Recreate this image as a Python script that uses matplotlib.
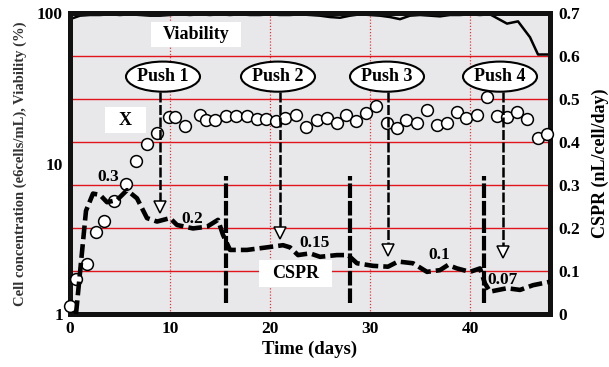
import matplotlib
matplotlib.use("Agg")
import numpy as np
import matplotlib.pyplot as plt
from matplotlib.patches import Ellipse, Rectangle

plt.rcParams['font.family'] = ['Liberation Serif', 'DejaVu Serif']
plt.rcParams['font.weight'] = 'bold'
plt.rcParams['axes.labelweight'] = 'bold'

# cell concentration X (e6 cells/mL), open circles
x_days = [0.0, 0.6, 1.7, 2.6, 3.4, 4.4, 5.6, 6.6, 7.7, 8.7,
          9.9, 10.5, 11.5, 13.0, 13.6, 14.5, 15.6, 16.6, 17.7, 18.7,
          19.6, 20.6, 21.5, 22.6, 23.6, 24.7, 25.7, 26.7, 27.6, 28.6,
          29.6, 30.6, 31.7, 32.7, 33.6, 34.7, 35.7, 36.7, 37.7, 38.7,
          39.6, 40.7, 41.7, 42.7, 43.7, 44.7, 45.7, 46.8, 47.7]
x_vals = [1.13, 1.71, 2.15, 3.5, 4.15, 5.6, 7.3, 10.4, 13.4, 15.9,
          20.4, 20.4, 17.7, 21, 19.4, 19.4, 20.7, 20.7, 20.7, 19.8,
          19.7, 19.2, 20, 21, 17.5, 19.4, 20.2, 18.7, 21, 19.2,
          21.6, 24.1, 18.7, 17.1, 19.4, 18.7, 22.7, 18.1, 18.7, 22.1,
          20, 21, 27.5, 20.7, 20.4, 22.1, 19.7, 14.7, 15.7]

# viability (%)
via_days = list(range(0, 43)) + [43.7, 44.8, 46.0, 46.8, 48.0]
via_vals = [91, 96, 97, 97, 98, 97, 98, 97, 96, 96,
            97, 98, 97, 98, 97, 98, 97, 98, 97, 97,
            98, 97, 97, 98, 97, 96, 94, 93, 96, 98,
            97, 96, 94, 91, 96, 97, 96, 95, 97, 97,
            98, 97, 98, 85, 88, 69, 53, 53]

# CSPR (nL/cell/day), dashed line
cspr_days = [0.6, 1.1, 1.6, 2.3, 3.0, 3.7, 4.7, 5.7, 6.7, 7.7, 8.7, 10.0, 10.7,
             12.3, 13.7, 14.8, 15.3, 16.0, 17.7, 19.7, 21.3, 22.0, 22.8, 24.0,
             25.0, 26.7, 27.8, 28.7, 30.3, 31.8, 32.8, 34.3, 35.7, 37.0, 37.8,
             38.7, 40.0, 41.0, 41.5, 42.0, 43.7, 45.0, 46.3, 48.0]
cspr_vals = [0.0, 0.12, 0.24, 0.28, 0.277, 0.26, 0.265, 0.288, 0.269, 0.223, 0.215,
             0.223, 0.207, 0.199, 0.203, 0.219, 0.184, 0.149, 0.149, 0.155, 0.16,
             0.155, 0.137, 0.141, 0.133, 0.137, 0.137, 0.118, 0.112, 0.11, 0.122,
             0.118, 0.098, 0.102, 0.114, 0.106, 0.098, 0.106, 0.071, 0.052, 0.06,
             0.056, 0.067, 0.075]

# medium change bars and push feeds
bar_days = [15.6, 28.0, 41.4]
push_labels = ['Push 1', 'Push 2', 'Push 3', 'Push 4']
push_days = [9.3, 20.8, 31.7, 43.0]
push_arrow_days = [9.0, 21.0, 31.8, 43.3]
push_tips = [0.237, 0.177, 0.137, 0.133]

# CSPR level labels
lvl_text = ['0.3', '0.2', '0.15', '0.1', '0.07']
lvl_days = [3.8, 12.2, 24.5, 36.9, 43.3]
lvl_vals = [0.319, 0.221, 0.165, 0.137, 0.079]

fig = plt.figure(figsize=(6.09, 3.67), dpi=100)
ax = fig.add_axes([70/609, 1-314/367, 480/609, 301/367])
ax2 = ax.twinx()
ax.set_facecolor('#e8e8ea')

ax.set_yscale('log')
ax.set_ylim(1, 100)
ax.set_xlim(0, 48)
ax2.set_ylim(0, 0.7)

# grid
for k in range(1, 8):
    ax.axhline(10 ** (2 * k / 7), color='#e0161c', lw=1, zorder=0.5)
for d in [10, 20, 30, 40]:
    ax.axvline(d, color='#e8333a', lw=0.9, ls=(0, (1, 1.5)), zorder=0.5)

ax.plot(via_days, via_vals, color='black', lw=1.8, zorder=2)
ax.plot(x_days, x_vals, 'o', ms=8.5, mfc='white', mec='black', mew=1.1,
        zorder=3, clip_on=False)

for s in ax.spines.values():
    s.set_linewidth(3.6)
    s.set_color('#111111')
for s in ax2.spines.values():
    s.set_visible(False)

ax.set_yticks([1, 10, 100])
ax.set_yticklabels(['1', '10', '100'])
ax.yaxis.set_minor_locator(matplotlib.ticker.NullLocator())
ax.set_xticks([0, 10, 20, 30, 40])
ax.tick_params(axis='both', length=0, labelsize=12.5)
ax.tick_params(axis='y', pad=5)
ax.tick_params(axis='x', pad=5)
ax2.set_yticks([0, 0.1, 0.2, 0.3, 0.4, 0.5, 0.6, 0.7])
ax2.set_yticklabels(['0', '0.1', '0.2', '0.3', '0.4', '0.5', '0.6', '0.7'])
ax2.tick_params(axis='y', length=0, labelsize=12.5, pad=6)

ax.set_xlabel('Time (days)', fontsize=13.5, labelpad=3)
ax.set_ylabel('Cell concentration (e6cells/mL), Viability (%)',
              fontsize=10.5, color='#333333', labelpad=7)
ax2.set_ylabel('CSPR (nL/cell/day)', fontsize=13, labelpad=8)

# CSPR line
ax2.plot(cspr_days, cspr_vals, color='black', lw=3.3, ls=(0, (3, 1.1)),
         solid_capstyle='butt', zorder=4)

for d in bar_days:
    ax2.plot([d, d], [0.025, 0.32], color='black', lw=3, ls=(0, (3.5, 0.7)),
             zorder=4)

# push callouts
for lab, cx, ax_d, tip in zip(push_labels, push_days, push_arrow_days, push_tips):
    ax2.add_patch(Ellipse((cx, 0.552), 7.4, 0.07, facecolor='white',
                          edgecolor='black', lw=1.5, zorder=5))
    ax2.text(cx, 0.552, lab, ha='center', va='center', fontsize=13, zorder=6)
    ax2.plot([ax_d, ax_d], [0.516, tip + 0.02], color='black', lw=1.8,
             ls=(0, (4, 1)), zorder=4)
    ax2.plot([ax_d], [tip + 0.011], marker='v', ms=8, mfc='white', mec='black',
             mew=1.1, zorder=5)

# labelled boxes
for txt, x0, x1, y0, y1 in [('Viability', 8.1, 17.1, 0.621, 0.679),
                            ('X', 3.5, 7.6, 0.421, 0.481),
                            ('CSPR', 18.9, 26.2, 0.063, 0.126)]:
    ax2.add_patch(Rectangle((x0, y0), x1 - x0, y1 - y0, facecolor='white',
                            edgecolor='none', zorder=5))
    ax2.text((x0 + x1) / 2, (y0 + y1) / 2, txt, ha='center', va='center',
             fontsize=13, zorder=6)

for t, d, v in zip(lvl_text, lvl_days, lvl_vals):
    ax2.text(d, v, t, ha='center', va='center', fontsize=12.5, zorder=6)

fig.savefig('out.png', dpi=100)
